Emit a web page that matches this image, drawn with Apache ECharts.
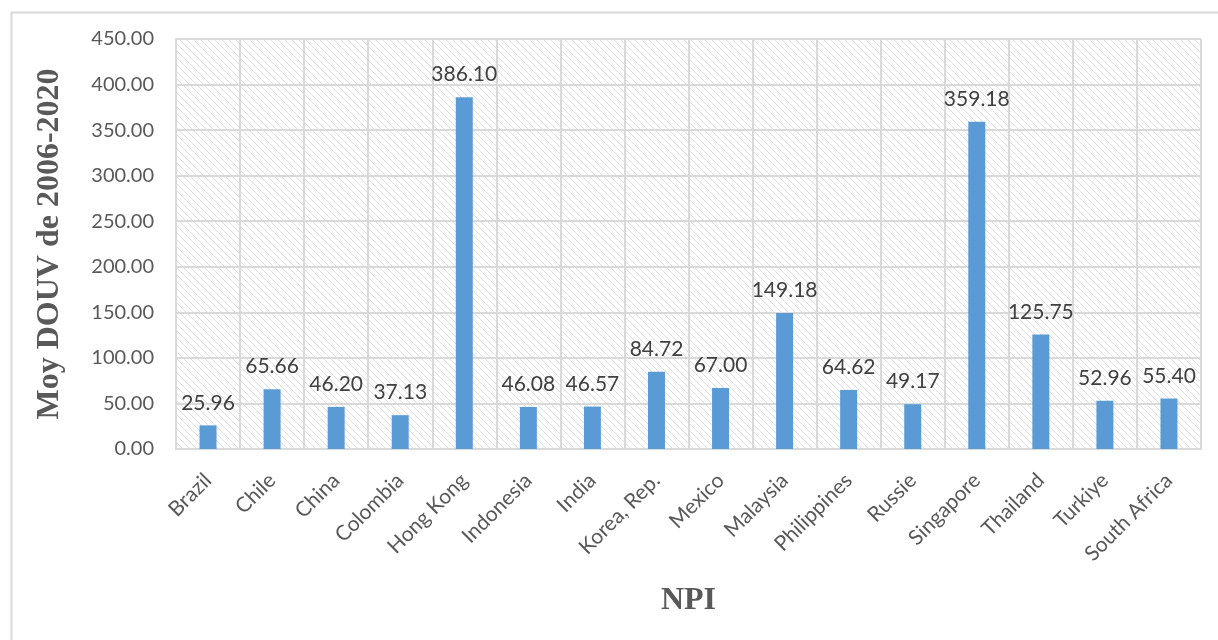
<!DOCTYPE html>
<html>
<head>
<meta charset="utf-8">
<script src="https://cdn.jsdelivr.net/npm/echarts@6/dist/echarts.min.js"></script>
<style>
  html, body { margin: 0; padding: 0; background: #fff; }
  #chart { width: 1218px; height: 640px; }
</style>
</head>
<body>
<div id="chart"></div>
<script>
const countries = ['Brazil', 'Chile', 'China', 'Colombia', 'Hong Kong', 'Indonesia', 'India', 'Korea, Rep.',
  'Mexico', 'Malaysia', 'Philippines', 'Russie', 'Singapore', 'Thailand', 'Turkiye', 'South Africa']
const douv = [25.96, 65.66, 46.20, 37.13, 386.10, 46.08, 46.57, 84.72,
  67.00, 149.18, 64.62, 49.17, 359.18, 125.75, 52.96, 55.40]

// light diagonal hatching for the plot area
function hatch() {
  const c = document.createElement('canvas')
  c.width = 7; c.height = 7
  const ctx = c.getContext('2d')
  ctx.strokeStyle = '#dedede'
  ctx.lineWidth = 1
  ctx.beginPath()
  ctx.moveTo(-1, -1); ctx.lineTo(8, 8)
  ctx.moveTo(-8, -1); ctx.lineTo(1, 8)
  ctx.moveTo(6, -1); ctx.lineTo(15, 8)
  ctx.stroke()
  return c
}

const chart = echarts.init(document.getElementById('chart'))
chart.setOption({
  backgroundColor: '#fff',
  animation: false,
  graphic: [{
    type: 'rect', left: 9, top: 10,
    shape: { width: 1300, height: 700 },
    style: { fill: 'none', stroke: '#d9d9d9', lineWidth: 2 },
    silent: true
  }],
  grid: {
    left: 176, right: 17, top: 39, bottom: 191,
    show: true, borderWidth: 0,
    backgroundColor: { image: hatch(), repeat: 'repeat' }
  },
  xAxis: {
    type: 'category', data: countries,
    name: 'NPI', nameLocation: 'middle', nameGap: 136,
    nameTextStyle: { fontFamily: 'Liberation Serif', fontWeight: 'bold', fontSize: 32, color: '#595959' },
    axisLine: { lineStyle: { color: '#d9d9d9', width: 2 } },
    axisTick: { show: false },
    splitLine: { show: true, lineStyle: { color: '#d9d9d9', width: 2 } },
    axisLabel: {
      rotate: 45, interval: 0, margin: 28,
      fontFamily: 'Lato', fontSize: 21, color: '#595959'
    }
  },
  yAxis: {
    type: 'value', min: 0, max: 450, interval: 50,
    name: 'Moy DOUV de 2006-2020', nameLocation: 'middle', nameGap: 110,
    nameTextStyle: { fontFamily: 'Liberation Serif', fontWeight: 'bold', fontSize: 32, color: '#595959' },
    axisLine: { show: true, lineStyle: { color: '#d9d9d9', width: 2 } },
    axisTick: { show: false },
    splitLine: { lineStyle: { color: '#d9d9d9', width: 2 } },
    axisLabel: {
      margin: 22, fontFamily: 'Lato', fontSize: 20, color: '#595959',
      formatter: v => v.toFixed(2)
    }
  },
  series: [{
    type: 'bar', data: douv, barWidth: 17,
    itemStyle: { color: '#5b9bd5' },
    label: {
      show: true, position: 'top', distance: 12,
      fontFamily: 'Lato', fontSize: 21, color: '#404040',
      formatter: p => p.value.toFixed(2)
    }
  }]
})
</script>
</body>
</html>
